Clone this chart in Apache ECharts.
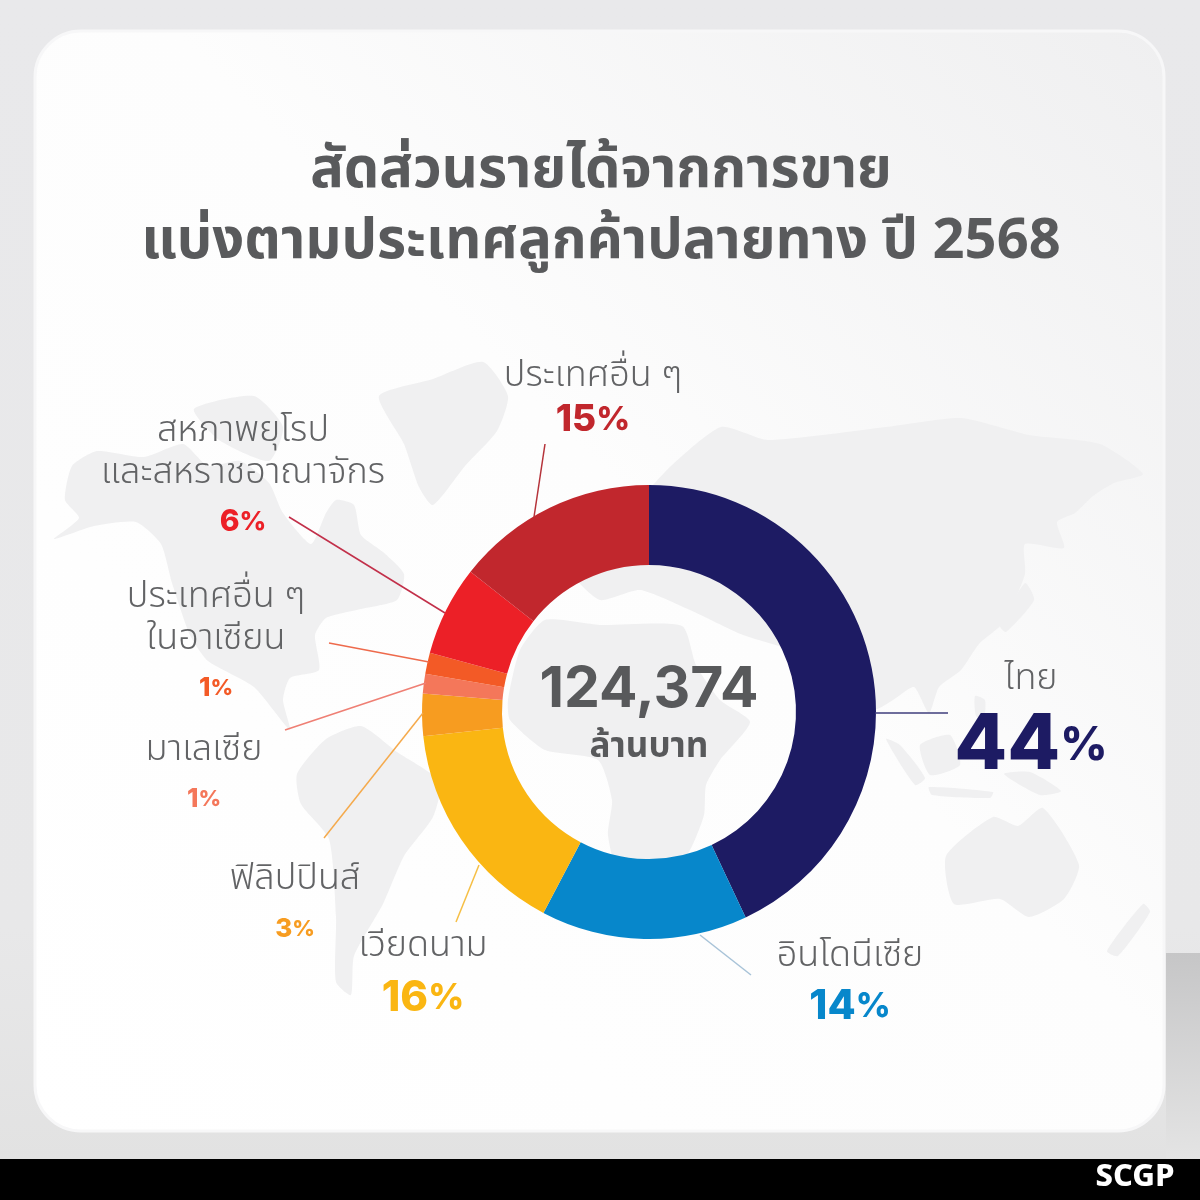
<!DOCTYPE html>
<html>
<head>
<meta charset="utf-8">
<style>html,body{margin:0;padding:0;background:#e9e9ea}#main{width:1200px;height:1200px}</style>
<script src="https://cdn.jsdelivr.net/npm/echarts@6/dist/echarts.min.js"></script>
</head>
<body>
<div id="main"></div>
<script>
var categories = ['ไทย', 'อินโดนีเซีย', 'เวียดนาม', 'ฟิลิปปินส์', 'มาเลเซีย', 'ประเทศอื่น ๆ\nในอาเซียน', 'สหภาพยุโรป\nและสหราชอาณาจักร', 'ประเทศอื่น ๆ'];
// printed percentages
var printedShares = [44, 14, 16, 3, 1, 1, 6, 15];
// slice sizes as measured on the ring
var sliceShares = [43, 14.7, 15.6, 3, 1.4, 1.5, 6.4, 14.4];
var sliceColors = ['#1d1b63', '#0787cb', '#fab612', '#f79c20', '#f4775a', '#f35a26', '#ec2027', '#c1272d'];
var titleLines = ['สัดส่วนรายได้จากการขาย', 'แบ่งตามประเทศลูกค้าปลายทาง ปี 2568'];
var totalValue = '124,374';
var totalUnit = 'ล้านบาท';

var font = '"Noto Sans Thai","Noto Sans",sans-serif';
var numFont = 'Inter,"Noto Sans",sans-serif';
var myChart = echarts.init(document.getElementById('main'));

// label placement and styling, one row per slice
var labelStyle = [
    {x: 1031, y: 682, num: 77, sign: 46, gap: 86},
    {x: 850, y: 959, num: 41, sign: 34, gap: 54},
    {x: 423, y: 949, num: 42, sign: 35, gap: 56},
    {x: 295, y: 882, num: 26, sign: 22, gap: 52},
    {x: 204, y: 753, num: 26, sign: 22, gap: 50},
    {x: 216, y: 600, num: 26, sign: 22, gap: 50},
    {x: 243, y: 434, num: 30, sign: 26, gap: 50},
    {x: 593, y: 379, num: 37, sign: 33, gap: 40}
];
var leaderLines = [
    [[875, 713], [948, 713], '#3f3e7c'],
    [[700, 935], [751, 975], '#a8c3d8'],
    [[479, 865], [456, 922], '#f6bf45'],
    [[423, 713], [324, 838], '#f5aa4c'],
    [[426, 683], [285, 730], '#ef7f74'],
    [[429, 662], [329, 643], '#ee6a4c'],
    [[445, 613], [289, 517], '#c2304a'],
    [[534, 517], [545, 444], '#b5333a']
];
// background world map, hand traced outlines in page pixels
var mapShapes = [
    [[54,539],[79,518],[65,500],[72,466],[97,451],[144,457],[183,444],[208,466],[240,461],[269,483],[283,513],[311,544],[326,513],[336,500],[354,505],[361,535],[383,552],[404,574],[397,600],[361,609],[326,618],[315,635],[319,670],[290,678],[283,700],[290,730],[254,687],[208,661],[190,635],[172,583],[161,544],[136,522],[94,526]],
    [[194,409],[254,396],[283,427],[269,461],[219,440]],
    [[379,396],[433,379],[483,362],[508,396],[497,431],[465,466],[433,505],[419,487],[404,444]],
    [[297,774],[326,739],[361,726],[397,752],[440,782],[433,817],[404,856],[383,904],[354,956],[351,995],[336,982],[336,917],[329,839],[301,804]],
    [[508,700],[520,650],[545,620],[600,625],[682,626],[696,665],[720,700],[750,722],[720,760],[706,785],[704,815],[690,850],[670,870],[620,875],[608,835],[612,800],[598,760],[545,750],[510,720]],
    [[671,466],[721,427],[768,440],[886,427],[961,418],[1029,435],[1100,444],[1143,474],[1114,483],[1093,496],[1075,513],[1057,522],[1064,548],[1025,544],[1025,574],[1004,622],[979,644],[961,670],[939,687],[929,713],[914,687],[893,700],[875,709],[857,670],[800,652],[743,635],[690,610],[640,590],[600,600],[575,575],[610,540],[640,500]],
    [[946,856],[993,817],[1018,826],[1043,808],[1079,865],[1064,899],[1029,917],[1000,899],[954,904]],
    [[1107,951],[1143,904],[1150,912],[1118,956]],
    [[886,739],[900,745],[925,778],[915,785]],
    [[929,787],[993,792],[990,798],[932,795]],
    [[1004,774],[1030,772],[1061,791],[1040,795]],
    [[975,696],[985,700],[984,718],[976,716]],
    [[1025,583],[1034,600],[1006,632],[1000,626]],
    [[920,745],[950,735],[960,765],[930,775]]
];

var graphics = [
    {type: 'rect', shape: {x: 0, y: 0, width: 1200, height: 1160},
        style: {fill: new echarts.graphic.LinearGradient(0, 0, 0, 1, [{offset: 0, color: '#e9e9eb'}, {offset: 0.8, color: '#e8e8e9'}, {offset: 1, color: '#e2e2e2'}])}},
    {type: 'rect', shape: {x: 1166, y: 953, width: 34, height: 207},
        style: {fill: new echarts.graphic.LinearGradient(0, 0, 0, 1, [{offset: 0, color: '#c6c6c7'}, {offset: 1, color: '#e4e4e4'}])}},
    {type: 'rect', shape: {x: 35, y: 31, width: 1129, height: 1100, r: 46},
        style: {fill: new echarts.graphic.LinearGradient(0, 1, 1, 0, [{offset: 0, color: '#ffffff'}, {offset: 0.55, color: '#fdfdfd'}, {offset: 1, color: '#efeff0'}]), stroke: '#f7f7f8', lineWidth: 3}},
    {type: 'rect', shape: {x: 0, y: 1159, width: 1200, height: 41}, style: {fill: '#000000'}},
    {type: 'text', style: {x: 1135, y: 1180, text: 'SCGP', fill: '#ffffff', font: '800 31px ' + font, align: 'center', verticalAlign: 'middle'}},
    {type: 'text', z: 10, style: {x: 649, y: 690, text: totalValue, fill: '#58595b', font: '700 57px ' + numFont, align: 'center', verticalAlign: 'middle'}},
    {type: 'text', z: 10, style: {x: 649, y: 750, text: totalUnit, fill: '#58595b', font: '700 35px ' + font, align: 'center', verticalAlign: 'middle'}}
];
mapShapes.forEach(function (pts) {
    graphics.push({type: 'polygon', shape: {points: pts, smooth: 0.2}, style: {fill: '#f0f0f1'}});
});
leaderLines.forEach(function (l) {
    graphics.push({type: 'polyline', z: 10, shape: {points: [l[0], l[1]]}, style: {stroke: l[2], lineWidth: 1.5, fill: null}});
});

var data = categories.map(function (c, i) {
    var s = labelStyle[i];
    return {
        name: c,
        value: sliceShares[i],
        itemStyle: {color: sliceColors[i]},
        label: {
            rich: {
                name: {fontFamily: font, fontSize: 36, fontWeight: 300, color: '#626365', lineHeight: 42, align: 'center'},
                num: {fontFamily: numFont, fontSize: s.num, fontWeight: 800, color: sliceColors[i], lineHeight: s.gap},
                sign: {fontFamily: numFont, fontSize: s.sign, fontWeight: 800, color: sliceColors[i], lineHeight: s.gap}
            }
        }
    };
});

var option = {
    animation: false,
    title: {
        text: titleLines.join('\n'),
        left: 596,
        top: 135,
        textAlign: 'center',
        textStyle: {fontFamily: font, fontSize: 56, fontWeight: 700, color: '#595a5c', lineHeight: 71}
    },
    graphic: {elements: graphics},
    series: [{
        type: 'pie',
        z: 5,
        center: [649, 712],
        radius: [147, 227],
        startAngle: 90,
        clockwise: true,
        silent: true,
        label: {
            show: true,
            position: 'outside',
            align: 'center',
            formatter: function (p) {
                var names = p.name.split('\n').map(function (t) { return '{name|' + t + '}'; }).join('\n');
                return names + '\n{num|' + printedShares[p.dataIndex] + '}{sign|%}';
            }
        },
        labelLine: {show: false},
        labelLayout: function (p) {
            var s = labelStyle[p.dataIndex];
            return {x: s.x, y: s.y - 21, align: 'center', verticalAlign: 'top', hideOverlap: false};
        },
        data: data
    }]
};
myChart.setOption(option);
</script>
</body>
</html>
